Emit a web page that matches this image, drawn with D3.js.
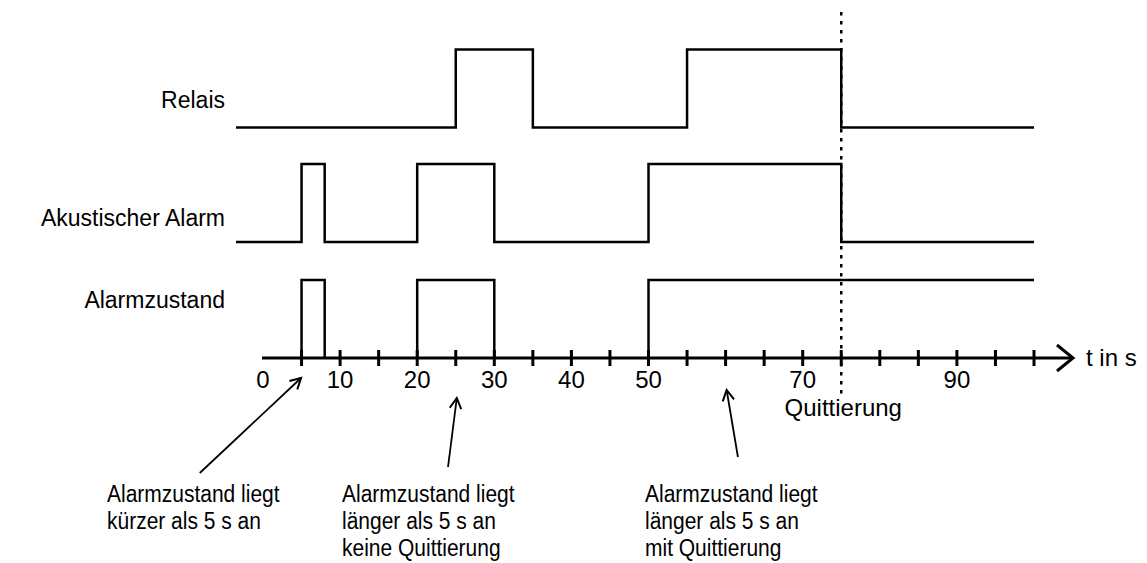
<!DOCTYPE html>
<html>
<head>
<meta charset="utf-8">
<script src="https://cdn.jsdelivr.net/npm/d3@7"></script>
<style>
  body { margin: 0; background: #fff; }
  text { font-family: "Liberation Sans", Arial, sans-serif; fill: #000; }
</style>
</head>
<body>
<div id="chart"></div>
<script>
// signal rows: label and times (s) where the level toggles, starting low
var rowLabels = ["Relais", "Akustischer Alarm", "Alarmzustand"];
var relaisEdges = [25, 35, 55, 75];
var akustikEdges = [5, 8, 20, 30, 50, 75];
var alarmEdges = [5, 8, 20, 30, 50];
var rowEdges = [relaisEdges, akustikEdges, alarmEdges];

var tickValues = d3.range(5, 101, 5);
var tickLabels = [0, 10, 20, 30, 40, 50, 70, 90];
var quittTime = 75;

// annotations: arrow tail / tip time and text lines
var notes = [
  { from: -8.2, to: 5, lines: ["Alarmzustand liegt", "kürzer als 5 s an"] },
  { from: 24, to: 25.2, lines: ["Alarmzustand liegt", "länger als 5 s an", "keine Quittierung"] },
  { from: 61.6, to: 60.2, lines: ["Alarmzustand liegt", "länger als 5 s an", "mit Quittierung"] }
];

var width = 1147, height = 563;

var svg = d3.select("#chart").append("svg")
    .attr("width", width)
    .attr("height", height);

var x = d3.scaleLinear().domain([0, 100]).range([263, 1034]);

// layout of the rows
var lowY = [127.5, 242, 358];
var labelY = [100, 218, 300];
var pulse = 78;
var axisY = 358;

function levels(edges, start, end) {
  var pts = [{ t: start, v: 0 }];
  edges.forEach(function(e, i) { pts.push({ t: e, v: (i + 1) % 2 }); });
  pts.push({ t: end, v: pts[pts.length - 1].v });
  return pts;
}

var line = d3.line().curve(d3.curveStepAfter);

rowLabels.forEach(function(name, i) {
  var y0 = lowY[i];
  if (i === 2) {
    // only the pulses, the low level is the time axis
    var e = rowEdges[i];
    for (var k = 0; k < e.length; k += 2) {
      var t1 = e[k], t2 = e[k + 1] !== undefined ? e[k + 1] : 100;
      var p = [[x(t1), y0], [x(t1), y0 - pulse], [x(t2), y0 - pulse]];
      if (e[k + 1] !== undefined) p.push([x(t2), y0]);
      svg.append("path").attr("d", d3.line()(p))
        .attr("fill", "none").attr("stroke", "#000").attr("stroke-width", 2.5);
    }
  } else {
    var pts = levels(rowEdges[i], -3.5, 100);
    svg.append("path")
      .attr("d", line(pts.map(function(d) { return [x(d.t), y0 - d.v * pulse]; })))
      .attr("fill", "none").attr("stroke", "#000").attr("stroke-width", 2.5);
  }
  svg.append("text")
    .attr("x", 225)
    .attr("y", labelY[i] + 8)
    .attr("font-size", 23)
    .attr("text-anchor", "end")
    .text(name);
});

// time axis
svg.append("line")
  .attr("x1", 262).attr("x2", 1072)
  .attr("y1", axisY).attr("y2", axisY)
  .attr("stroke", "#000").attr("stroke-width", 3);
svg.append("path")
  .attr("d", "M1057,345L1073," + axisY + "L1057,371")
  .attr("fill", "none").attr("stroke", "#000").attr("stroke-width", 3);

svg.selectAll(".tick").data(tickValues).enter().append("line")
  .attr("class", "tick")
  .attr("x1", function(d) { return x(d); }).attr("x2", function(d) { return x(d); })
  .attr("y1", axisY - 8).attr("y2", axisY + 8)
  .attr("stroke", "#000").attr("stroke-width", 3);

svg.selectAll(".tlabel").data(tickLabels).enter().append("text")
  .attr("class", "tlabel")
  .attr("x", function(d) { return x(d); })
  .attr("y", 388)
  .attr("font-size", 24)
  .attr("text-anchor", "middle")
  .text(function(d) { return d; });

svg.append("text").attr("x", 1086).attr("y", axisY + 8)
  .attr("font-size", 24).text("t in s");

// acknowledgement marker
svg.append("line")
  .attr("x1", x(quittTime)).attr("x2", x(quittTime))
  .attr("y1", 12).attr("y2", 394)
  .attr("stroke", "#000").attr("stroke-width", 2.5)
  .attr("stroke-dasharray", "3.5,5.5");
svg.append("text").attr("x", x(quittTime) + 2).attr("y", 416)
  .attr("font-size", 24)
  .attr("text-anchor", "middle").text("Quittierung");

// annotation arrows and texts
var tailY = [473, 467, 457];
var tipY = [378, 398, 390];
var textX = [107, 342, 645];

notes.forEach(function(n, i) {
  var t = [x(n.from), tailY[i]], h = [x(n.to) - 0.5, tipY[i]];
  svg.append("line")
    .attr("x1", t[0]).attr("y1", t[1]).attr("x2", h[0]).attr("y2", h[1])
    .attr("stroke", "#000").attr("stroke-width", 1.8);
  var ang = Math.atan2(h[1] - t[1], h[0] - t[0]);
  var len = 12, spread = 0.5;
  var a1 = [h[0] - len * Math.cos(ang - spread), h[1] - len * Math.sin(ang - spread)];
  var a2 = [h[0] - len * Math.cos(ang + spread), h[1] - len * Math.sin(ang + spread)];
  svg.append("path").attr("d", d3.line()([a1, h, a2]))
    .attr("fill", "none").attr("stroke", "#000").attr("stroke-width", 2);
  n.lines.forEach(function(l, j) {
    svg.append("text")
      .attr("transform", "translate(" + textX[i] + "," + (502 + j * 27) + ") scale(1,1.15)")
      .attr("font-size", 21)
      .text(l);
  });
});
</script>
</body>
</html>
